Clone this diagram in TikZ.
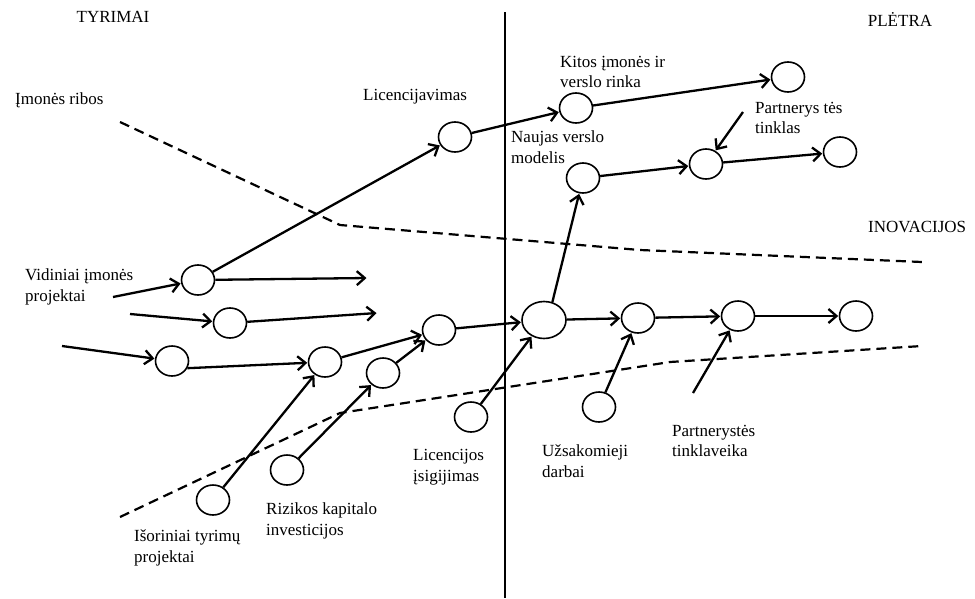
\documentclass[tikz,border=0pt]{standalone}
\usepackage{fontspec}
\setmainfont{Liberation Serif}
\usetikzlibrary{shapes.geometric,arrows.meta}
\begin{document}
\begin{tikzpicture}[x=1pt,y=-1pt,
  circ/.style={ellipse,draw,line width=1.6pt,minimum width=33pt,minimum height=30pt,inner sep=0pt},
  bigcirc/.style={circ,minimum width=44pt,minimum height=37pt},
  arr/.style={line width=2.3pt,-{Straight Barb[length=8pt,width=14pt,line width=2.3pt]},shorten >=0.5pt},
  dsh/.style={line width=2.2pt,dash pattern=on 10pt off 6pt},
  lbl/.style={font=\fontsize{17}{20.5}\selectfont,align=left,inner sep=0pt,anchor=west},
  ttl/.style={font=\fontsize{17}{20.5}\selectfont,inner sep=0pt}]
\useasboundingbox (0,0) rectangle (975,598);
\fill[white] (0,0) rectangle (975,598);

% titles
\node[ttl] (tyr) at (113,17) {TYRIMAI};
\node[ttl] (ple) at (900,19) {PLĖTRA};
\node[lbl] (ino) at (868,227) {INOVACIJOS};
\node[lbl] (rib) at (15,100) {Įmonės ribos};

% vertical divider
\coordinate (vtop) at (505,12);
\coordinate (vbot) at (505,598);
\draw[line width=2.5pt] (vtop) -- (vbot);

% dashed boundaries
\coordinate (u1) at (120,122);
\coordinate (u2) at (340,225);
\coordinate (u3) at (640,250);
\coordinate (u4) at (922,262);
\draw[dsh] (u1) -- (u2) -- (u3) -- (u4);
\coordinate (l1) at (120,517);
\coordinate (l2) at (340,413);
\coordinate (l3) at (670,362);
\coordinate (l4) at (922,346);
\draw[dsh] (l1) -- (l2) -- (l3) -- (l4);

% circles
\node[circ] (a1) at (198,280) {};
\node[circ] (lic) at (455,137) {};
\node[circ] (kit) at (576,108) {};
\node[circ] (tr) at (788,77) {};
\node[circ] (nau) at (583,178) {};
\node[circ] (ptn) at (706,164) {};
\node[circ] (rr) at (840,152) {};
\node[circ] (r2) at (230,323) {};
\node[circ] (r3a) at (172,361) {};
\node[circ] (r3b) at (325,362) {};
\node[circ] (rzu) at (383,373) {};
\node[circ] (mrg) at (439,330) {};
\node[circ] (lis) at (471,417) {};
\node[circ] (iso) at (213,500) {};
\node[circ] (rzl) at (287,470) {};
\node[bigcirc] (big) at (544,320) {};
\node[circ] (n1) at (638,318) {};
\node[circ] (n2) at (738,316) {};
\node[circ] (n3) at (856,316) {};
\node[circ] (uzs) at (599,407) {};

% labels
\node[lbl] at (363,97) {Licencijavimas};
\node[lbl] at (25,287) {Vidiniai įmonės\\projektai};
\node[lbl] at (560,72) {Kitos įmonės ir\\verslo rinka};
\node[lbl] at (755,118) {Partnerys tės\\tinklas};
\node[lbl] at (511,147) {Naujas verslo\\modelis};
\node[lbl] at (413,467) {Licencijos\\įsigijimas};
\node[lbl] at (134,548) {Išoriniai tyrimų\\projektai};
\node[lbl] at (266,521) {Rizikos kapitalo\\investicijos};
\node[lbl] at (542,461) {Užsakomieji\\darbai};
\node[lbl] at (672,441) {Partnerystės\\tinklaveika};

% free ends
\coordinate (s1) at (113,297);
\coordinate (e1) at (367,278);
\coordinate (s2) at (130,314);
\coordinate (e2) at (377,313);
\coordinate (s3) at (62,346);
\coordinate (sp) at (743,112);
\coordinate (spt) at (693,393);

% connectors
\draw[arr] (s1) -- (a1);
\draw[arr] (a1) -- (e1);
\draw[arr] (a1) -- (lic);
\draw[arr] (lic) -- (kit);
\draw[arr] (kit) -- (tr);
\draw[arr] (big.65) -- (nau);
\draw[arr] (nau) -- (ptn);
\draw[arr] (ptn) -- (rr);
\draw[arr] (sp) -- (ptn);
\draw[arr] (s2) -- (r2);
\draw[arr] (r2) -- (e2);
\draw[arr] (s3) -- (r3a);
\draw[arr] (r3a.-25) -- (r3b);
\draw[arr] (r3b) -- (mrg);
\draw[arr] (rzu) -- (mrg);
\draw[arr] (iso) -- (r3b);
\draw[arr] (rzl) -- (rzu);
\draw[arr] (mrg) -- (big);
\draw[arr] (lis) -- (big);
\draw[arr] (big) -- (n1);
\draw[arr] (n1) -- (n2);
\draw[arr] (n2) -- (n3);
\draw[arr] (uzs) -- (n1);
\draw[arr] (spt) -- (n2);
\end{tikzpicture}
\end{document}
